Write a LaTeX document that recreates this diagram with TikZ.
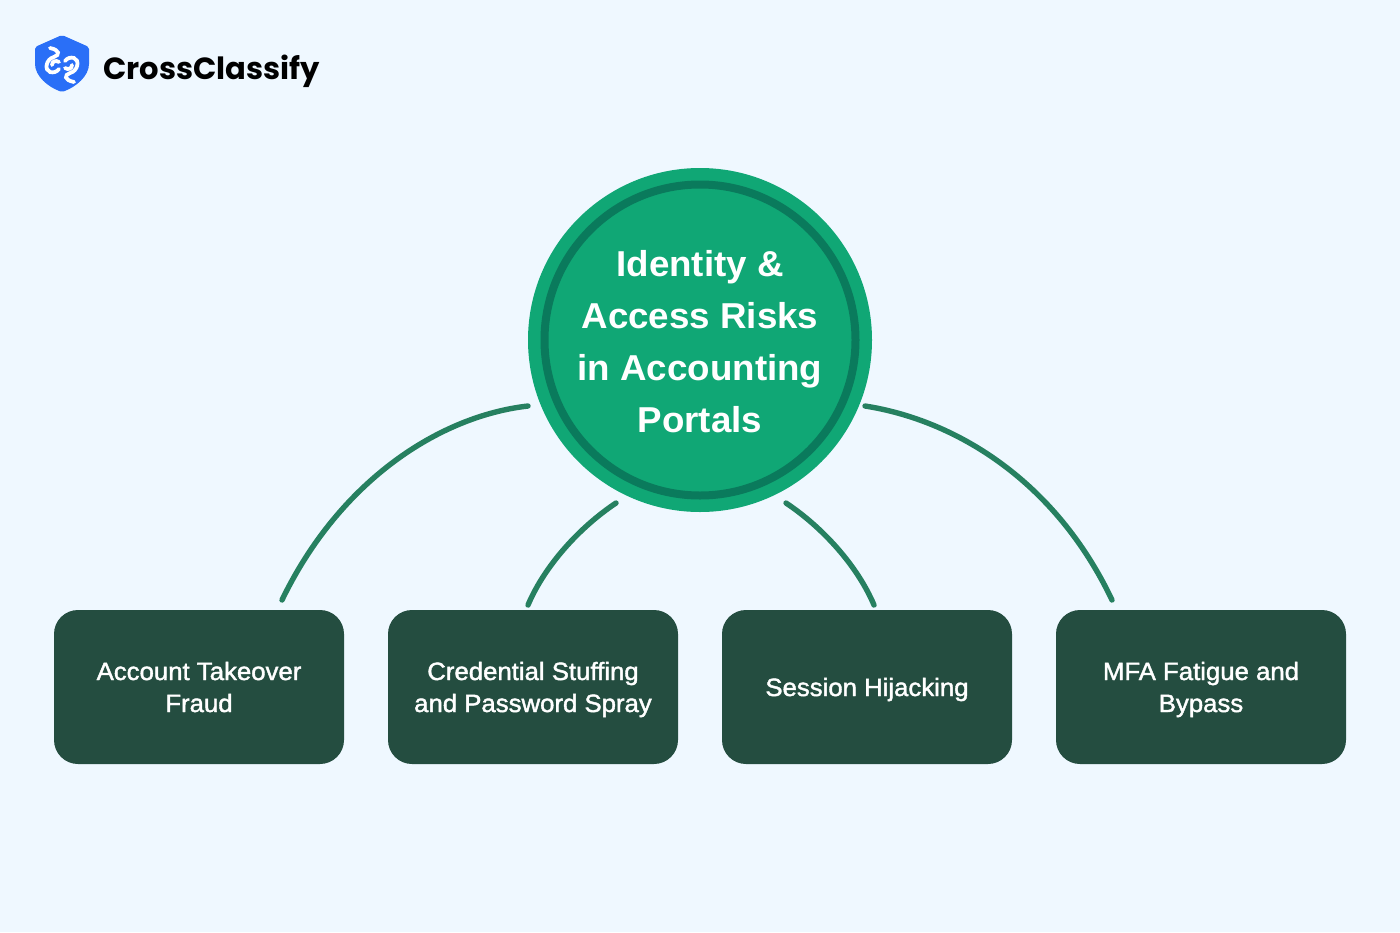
\documentclass[tikz,border=0pt]{standalone}
\usepackage{fontspec}
\setmainfont{Liberation Sans}
\newfontfamily\brandfont{Poppins}
\newfontfamily\boxfont[FakeStretch=1.03,FakeBold=1.6]{Liberation Sans}
\newfontfamily\hubfont[FakeStretch=1.02]{Liberation Sans}
\usepackage{xcolor}
\definecolor{pagebg}{HTML}{EFF8FF}
\definecolor{hubgreen}{HTML}{10A775}
\definecolor{ringgreen}{HTML}{0A7A5C}
\definecolor{linkgreen}{HTML}{268060}
\definecolor{boxgreen}{HTML}{244D40}
\definecolor{shieldblue}{HTML}{2A6FF7}
\newcommand{\boxstrut}{\rule[-7pt]{0pt}{32pt}}
\tikzset{
riskbox/.style={fill=boxgreen, rounded corners=24pt, minimum width=290pt, minimum height=154pt, inner sep=0pt, text=white, align=center, font=\boxfont\fontsize{25}{32}\selectfont},
hubdisc/.style={circle, fill=hubgreen, minimum size=344pt, inner sep=0pt},
hubring/.style={circle, draw=ringgreen, line width=8pt, minimum size=311pt, inner sep=0pt},
hubtext/.style={text=white, align=center, inner sep=0pt, font=\hubfont\fontsize{36}{52}\selectfont\bfseries},
risklink/.style={draw=linkgreen, line width=5.4pt, line cap=round},
logoloop/.style={draw=white, line width=3.8pt, line cap=round}
}
\begin{document}
\begin{tikzpicture}[x=1pt,y=-1pt]
\fill[pagebg] (0,0) rectangle (1400,932);
\useasboundingbox (0,0) rectangle (1400,932);
\fill[shieldblue, rounded corners=2pt] (62,35) -- (89,47) -- (89,62) .. controls (89,76) and (76,87) .. (62,92) .. controls (48,87) and (35,76) .. (35,62) -- (35,47) -- cycle;
\draw[logoloop] (50,48) .. controls (60,50) and (60,55) .. (54,57) .. controls (46,59) and (44,70) .. (50,72) .. controls (53,73) and (57,72) .. (59,69);
\draw[logoloop] (52,65) .. controls (52,61) and (56,60) .. (59,62);
\draw[logoloop] (74,82) .. controls (64,80) and (64,75) .. (70,73) .. controls (78,71) and (80,60) .. (74,58) .. controls (71,57) and (67,58) .. (65,61);
\draw[logoloop] (72,65) .. controls (72,69) and (68,70) .. (65,68);
\node[anchor=west, inner sep=0pt, text=black, font=\brandfont\fontsize{30.6}{31}\selectfont\bfseries] (brand) at (103,71) {CrossClassify};
\node[hubdisc] (hub) at (700,340) {};
\node[hubring] (ring) at (hub) {};
\node[hubtext] (title) at (700,342) {Identity \&\\Access Risks\\in Accounting\\Portals};
\node[riskbox] (takeover) at (199,687) {\boxstrut Account Takeover\\\boxstrut Fraud};
\node[riskbox] (stuffing) at (533,687) {\boxstrut Credential Stuffing\\\boxstrut and Password Spray};
\node[riskbox] (hijack) at (867,687) {\boxstrut Session Hijacking};
\node[riskbox] (fatigue) at (1201,687) {\boxstrut MFA Fatigue and\\\boxstrut Bypass};
\coordinate (hubA) at (528,406);
\coordinate (hubB) at (616,503);
\coordinate (hubC) at (786,503);
\coordinate (hubD) at (865,406);
\coordinate (boxA) at (282,600);
\coordinate (boxB) at (528,605);
\coordinate (boxC) at (874,605);
\coordinate (boxD) at (1112,600);
\draw[risklink] (hubA) .. controls (440,416) and (340,480) .. (boxA);
\draw[risklink] (hubB) .. controls (580,527) and (545,565) .. (boxB);
\draw[risklink] (hubC) .. controls (822,527) and (857,565) .. (boxC);
\draw[risklink] (hubD) .. controls (955,420) and (1055,480) .. (boxD);
\end{tikzpicture}
\end{document}
